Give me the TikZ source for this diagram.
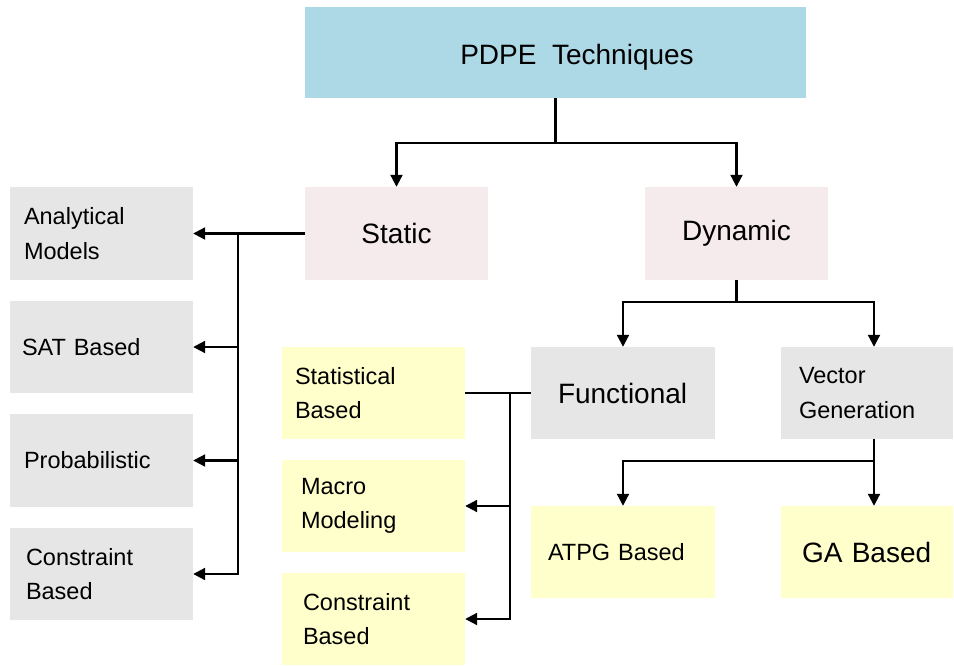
\documentclass[tikz,border=0pt]{standalone}
\usepackage{fontspec}
\setmainfont{Liberation Sans}
\usetikzlibrary{arrows.meta}
\definecolor{cblue}{RGB}{173,216,230}
\definecolor{cpink}{RGB}{245,234,236}
\definecolor{cgray}{RGB}{230,230,230}
\definecolor{cyel}{RGB}{255,255,204}
\begin{document}
\begin{tikzpicture}[x=1pt,y=-1pt,
  base/.style={rectangle, draw=none, inner ysep=0pt, anchor=center},
  big/.style={font=\fontsize{28}{34}\selectfont},
  small/.style={font=\fontsize{23.5}{34.5}\selectfont},
  lbox/.style={base, align=left},
  graybox/.style={fill=cgray},
  yelbox/.style={fill=cyel},
  pinkbox/.style={base, fill=cpink, minimum width=183pt, minimum height=93pt, inner xsep=0pt},
  conn/.style={line width=2.1pt, black},
  arr/.style={conn, -{Triangle[length=12pt,width=12pt]}},
]
\useasboundingbox (0,0) rectangle (954,666);

% top
\node[base, fill=cblue, minimum width=501pt, minimum height=91pt, big, text height=25pt, text depth=0pt] (pdpe) at (555.5,52.5) {\hspace*{43pt}PDPE\ \ Techniques};
\node[pinkbox, big] (static) at (396.5,233.5) {Static};
\node[pinkbox, big] (dynamic) at (736.5,233.5) {Dynamic};

% left column
\node[lbox, graybox, small, minimum width=183pt, minimum height=93pt, inner xsep=14pt, text width=155pt] (am) at (101.5,233.5) {Analytical\\Models};
\node[lbox, graybox, small, minimum width=183pt, minimum height=92pt, inner xsep=12pt, text width=159pt] (sat) at (101.5,347) {SAT Based};
\node[lbox, graybox, small, minimum width=183pt, minimum height=93pt, inner xsep=14pt, text width=155pt] (prob) at (101.5,460.5) {Probabilistic};
\node[lbox, graybox, small, minimum width=183pt, minimum height=92pt, inner xsep=16pt, text width=151pt] (cons1) at (101.5,574) {Constraint\\Based};

% middle column
\node[lbox, yelbox, small, minimum width=183pt, minimum height=92pt, inner xsep=13pt, text width=157pt] (stat) at (373.5,393) {Statistical\\Based};
\node[lbox, yelbox, small, minimum width=183pt, minimum height=92pt, inner xsep=19pt, text width=145pt] (macro) at (373.5,506) {Macro\\Modeling};
\node[lbox, yelbox, small, minimum width=183pt, minimum height=92pt, inner xsep=21pt, text width=141pt] (cons2) at (373.5,619) {Constraint\\Based};

% right part
\node[lbox, graybox, big, minimum width=184pt, minimum height=92pt, inner xsep=27pt, text width=130pt] (func) at (623,393) {Functional};
\node[lbox, graybox, small, minimum width=172pt, minimum height=92pt, inner xsep=18pt, text width=136pt] (vec) at (867,393) {Vector\\Generation};
\node[lbox, yelbox, small, minimum width=184pt, minimum height=92pt, inner xsep=17pt, text width=150pt] (atpg) at (623,552) {ATPG Based};
\node[lbox, yelbox, big, minimum width=172pt, minimum height=92pt, inner xsep=21pt, text width=130pt] (ga) at (867,552) {GA Based};

% connectors
\draw[conn] (pdpe.south) -- ++(0,45) coordinate (j1);
\draw[arr] (j1) -| (static.north);
\draw[arr] (j1) -| (dynamic.north);

\draw[arr] (static.west) -- (am.east);
\coordinate (lv) at (238,233.5);
\draw[arr] (lv) |- (sat.east);
\draw[arr] (lv) |- (prob.east);
\draw[arr] (lv) |- (cons1.east);

\draw[conn] (dynamic.south) -- ++(0,22) coordinate (j2);
\draw[arr] (j2) -| (func.north);
\draw[arr] (j2) -| ([xshift=7pt]vec.north);

\draw[conn] ([xshift=7pt]vec.south) -- ++(0,22) coordinate (j3);
\draw[arr] (j3) -| (atpg.north);
\draw[arr] (j3) -| ([xshift=7pt]ga.north);

\draw[conn] (func.west) -- (stat.east);
\coordinate (rv) at (510,393);
\draw[arr] (rv) |- (macro.east);
\draw[arr] (rv) |- (cons2.east);
\end{tikzpicture}
\end{document}
